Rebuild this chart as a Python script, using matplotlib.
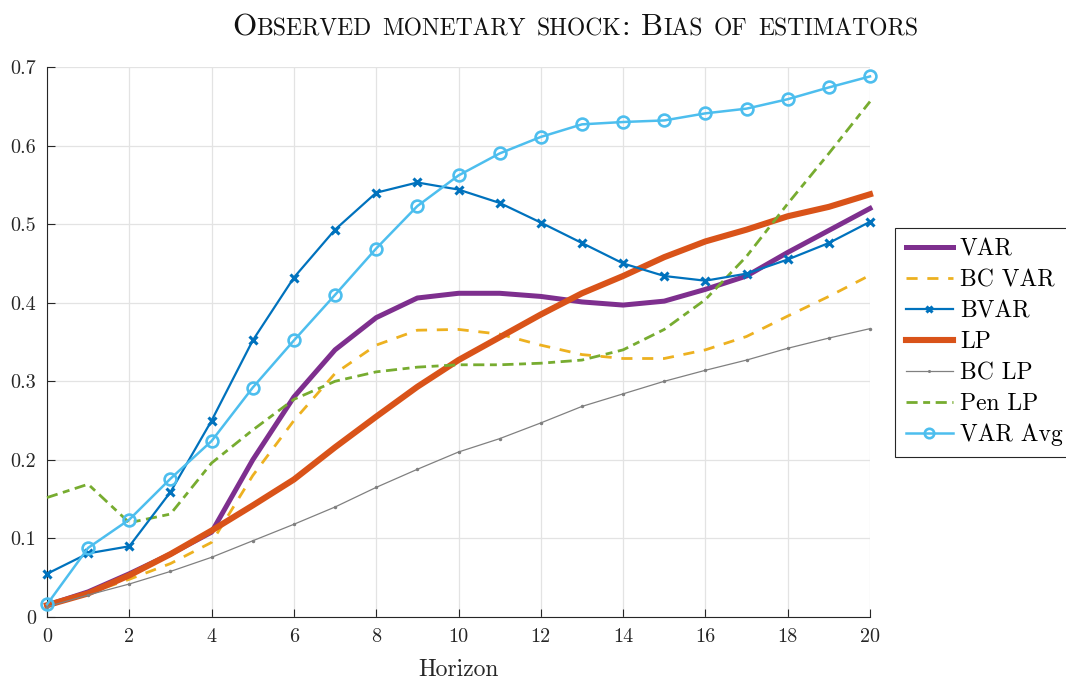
import numpy as np
import matplotlib
matplotlib.use('Agg')
import matplotlib.pyplot as plt

plt.rcParams['font.family'] = ['cmr10', 'DejaVu Serif']
plt.rcParams['axes.formatter.use_mathtext'] = True

# Data

horizon = list(range(21))

var = [0.015, 0.032, 0.055, 0.080, 0.108, 0.200, 0.280, 0.340, 0.381, 0.406, 0.412,
       0.412, 0.408, 0.401, 0.397, 0.402, 0.417, 0.434, 0.464, 0.492, 0.520]
bc_var = [0.013, 0.030, 0.048, 0.068, 0.095, 0.180, 0.250, 0.310, 0.346, 0.365, 0.366,
          0.360, 0.346, 0.334, 0.329, 0.329, 0.340, 0.357, 0.383, 0.408, 0.435]
bvar = [0.055, 0.081, 0.090, 0.159, 0.250, 0.352, 0.432, 0.493, 0.540, 0.553, 0.544,
        0.527, 0.502, 0.476, 0.450, 0.434, 0.428, 0.437, 0.455, 0.476, 0.503]
lp = [0.015, 0.030, 0.053, 0.080, 0.110, 0.142, 0.175, 0.216, 0.255, 0.293, 0.327,
      0.356, 0.385, 0.412, 0.434, 0.458, 0.478, 0.493, 0.510, 0.522, 0.538]
bc_lp = [0.013, 0.028, 0.042, 0.058, 0.076, 0.097, 0.118, 0.140, 0.165, 0.188, 0.210,
         0.227, 0.247, 0.268, 0.284, 0.300, 0.314, 0.327, 0.342, 0.355, 0.367]
pen_lp = [0.152, 0.169, 0.120, 0.131, 0.196, 0.238, 0.277, 0.300, 0.312, 0.318, 0.321,
          0.321, 0.323, 0.327, 0.340, 0.366, 0.404, 0.459, 0.526, 0.590, 0.656]
var_avg = [0.016, 0.088, 0.124, 0.176, 0.224, 0.292, 0.352, 0.410, 0.469, 0.523, 0.562,
           0.590, 0.611, 0.627, 0.630, 0.632, 0.641, 0.647, 0.659, 0.674, 0.688]

xticks = list(range(0, 21, 2))
yticks = [0, 0.1, 0.2, 0.3, 0.4, 0.5, 0.6, 0.7]
ytick_labels = ['0', '0.1', '0.2', '0.3', '0.4', '0.5', '0.6', '0.7']

# Figure

W, H = 1066, 679
fig = plt.figure(figsize=(W / 100, H / 100), dpi=100)
ax = fig.add_axes([47 / W, 1 - 617 / H, (870 - 47) / W, (617 - 67) / H])

ax.plot(horizon, var, color='#7E2F8E', lw=3.6, label='VAR', clip_on=False, zorder=3)
ax.plot(horizon, bc_var, color='#EDB120', lw=2.0, ls=(0, (4, 3.5)), label='BC VAR',
        clip_on=False, zorder=3)
ax.plot(horizon, bvar, color='#0072BD', lw=1.6, marker='x', ms=5.5, mew=2.2,
        label='BVAR', clip_on=False, zorder=4)
ax.plot(horizon, lp, color='#D95319', lw=4.4, label='LP', clip_on=False, zorder=3)
ax.plot(horizon, bc_lp, color='#808080', lw=0.9, marker='.', ms=3,
        label='BC LP', clip_on=False, zorder=3)
ax.plot(horizon, pen_lp, color='#77AC30', lw=2.0, ls=(0, (4, 2, 2.5, 2)),
        label='Pen LP', clip_on=False, zorder=3)
ax.plot(horizon, var_avg, color='#4DBEEE', lw=1.8, marker='o', ms=8.5, mew=1.9,
        mfc='none', label='VAR Avg', clip_on=False, zorder=4)

ax.set_xlim(0, 20)
ax.set_ylim(0, 0.7)
ax.set_xticks(xticks)
ax.set_xticklabels([str(t) for t in xticks])
ax.set_yticks(yticks)
ax.set_yticklabels(ytick_labels)
ax.tick_params(direction='in', length=6, width=0.8, color='#262626',
               labelsize=14.5, labelcolor='#262626', pad=8)
ax.grid(True, color='#e3e3e3', lw=0.9)
ax.set_axisbelow(True)
for side in ['top', 'right']:
    ax.spines[side].set_visible(False)
for side in ['left', 'bottom']:
    ax.spines[side].set_color('#262626')
    ax.spines[side].set_linewidth(0.8)

ax.set_xlabel('Horizon', fontsize=17, color='#262626', labelpad=9)

leg = ax.legend(loc='upper left', bbox_to_anchor=(895 / W, 1 - 228 / H),
                bbox_transform=fig.transFigure, fontsize=17, frameon=True,
                fancybox=False, framealpha=1, edgecolor='#262626',
                handlelength=2.0, handletextpad=0.3, labelspacing=0.37,
                borderpad=0.45, borderaxespad=0, markerscale=0.8)
leg.get_frame().set_linewidth(0.8)

# Title in small caps, built from pieces

big, small = 22.4, 17
pieces = [('O', big), ('BSERVED', small), (' ', big), ('MONETARY', small), (' ', big),
          ('SHOCK', small), (':', big), (' ', big), ('B', big), ('IAS', small),
          (' ', big), ('OF', small), (' ', big), ('ESTIMATORS', small)]

fig.canvas.draw()
renderer = fig.canvas.get_renderer()
texts = []
x = 0
for s, size in pieces:
    if s == ' ':
        x += size * 100 / 72 * 0.35
        continue
    t = fig.text(x / W, 1 - 35 / H, s, fontsize=size, va='baseline', ha='left',
                 color='#111111')
    w = t.get_window_extent(renderer).width
    texts.append((t, x))
    x += w
total = x
x0 = 575 - total / 2
for t, xs in texts:
    t.set_x((x0 + xs) / W)

fig.savefig('out.png', dpi=100)
